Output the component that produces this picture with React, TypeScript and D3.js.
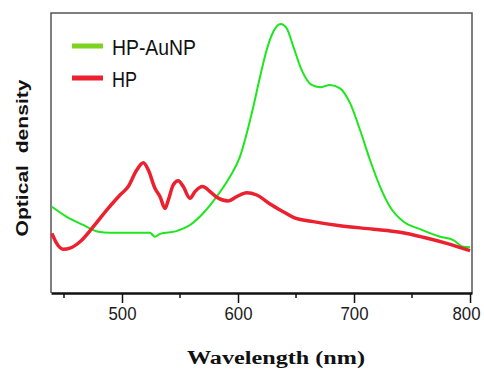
import * as d3 from 'd3'
import { useEffect, useRef } from 'react'

// HP-AuNP spectrum (wavelength nm, optical density a.u.)
const auWave = [439.6, 452, 466.6, 479.6, 489.7, 505, 524, 528.4, 532.8, 547, 558.6, 570, 581.6, 593, 601.7, 607.5, 613.2, 619, 624.7, 630.4, 636.8, 642, 647.7, 654.9, 663.5, 670.7, 679.3, 687.9, 696.6, 705.2, 713.8, 722.4, 731, 742.5, 756.9, 774.1, 785.6, 794.2, 800];
const auOD = [0.308, 0.273, 0.243, 0.219, 0.215, 0.215, 0.215, 0.201, 0.211, 0.221, 0.243, 0.285, 0.344, 0.415, 0.487, 0.570, 0.665, 0.772, 0.868, 0.933, 0.961, 0.945, 0.880, 0.796, 0.743, 0.735, 0.743, 0.731, 0.678, 0.582, 0.475, 0.380, 0.308, 0.255, 0.228, 0.201, 0.189, 0.165, 0.163];

// HP spectrum
const hpWave = [439.6, 443.7, 449.4, 455.2, 463.8, 475.3, 486.8, 498.3, 505.4, 512.7, 518.4, 522.7, 528.4, 532.8, 537.1, 539.9, 544.2, 548.5, 552.8, 558.6, 562.9, 569.5, 575.9, 581.6, 591.6, 598.9, 607.5, 616.1, 627.6, 639.1, 647.7, 664.9, 687.9, 716.6, 739.7, 759.7, 779.9, 800];
const hpOD = [0.213, 0.177, 0.156, 0.160, 0.183, 0.237, 0.296, 0.350, 0.380, 0.439, 0.465, 0.439, 0.374, 0.344, 0.302, 0.332, 0.386, 0.401, 0.380, 0.338, 0.362, 0.380, 0.362, 0.342, 0.329, 0.344, 0.358, 0.350, 0.318, 0.290, 0.270, 0.255, 0.240, 0.228, 0.217, 0.199, 0.177, 0.151];

const majorTicks = [500, 600, 700, 800];
const minorTicks = [450, 550, 650, 750];

const seriesNames = ['HP-AuNP', 'HP'];

const App = () => {
    const ref = useRef<SVGSVGElement>(null);
    const width = 484;
    const height = 372;

    useEffect(() => {
        const svg = d3.select(ref.current);
        svg.selectAll('*').remove();

        const left = 51, right = 472, top = 13, bottom = 293;

        const x = d3.scaleLinear().domain([438.8, 801.7]).range([left, right]);
        const y = d3.scaleLinear().domain([0, 1]).range([bottom, top]);

        // frame
        svg.append('path')
            .attr('d', `M${left},${bottom} V${top} H${right} V${bottom}`)
            .attr('fill', 'none')
            .attr('stroke', '#555')
            .attr('stroke-width', 1.5);

        const axis = svg.append('g')
            .attr('transform', `translate(0,${bottom})`)
            .call(d3.axisBottom(x).tickValues(majorTicks).tickSize(10).tickFormat(d3.format('d')).tickSizeOuter(0));
        axis.select('.domain').attr('stroke', '#111').attr('stroke-width', 2.5);
        axis.selectAll('.tick line').attr('stroke', '#111').attr('stroke-width', 1.5);
        axis.selectAll('.tick text')
            .attr('font-family', 'Liberation Sans, Arial, sans-serif')
            .attr('font-size', 19)
            .attr('fill', '#1a1a1a')
            .attr('y', 14)
            .attr('dy', '0.71em')
            .attr('textLength', 28)
            .attr('lengthAdjust', 'spacingAndGlyphs');
        // last label sits a little left of its tick so it stays inside the page
        axis.selectAll<SVGTextElement, number>('.tick text')
            .filter(d => d === 800)
            .attr('x', -4);

        svg.append('g')
            .selectAll('line')
            .data(minorTicks)
            .join('line')
            .attr('x1', d => x(d))
            .attr('x2', d => x(d))
            .attr('y1', bottom)
            .attr('y2', bottom + 5)
            .attr('stroke', '#111')
            .attr('stroke-width', 1.5);

        const line = d3.line<[number, number]>()
            .x(d => x(d[0]))
            .y(d => y(d[1]))
            .curve(d3.curveMonotoneX);

        const au = auWave.map((w, i) => [w, auOD[i]] as [number, number]);
        const hp = hpWave.map((w, i) => [w, hpOD[i]] as [number, number]);

        svg.append('path')
            .datum(au)
            .attr('fill', 'none')
            .attr('stroke', '#1ee61e')
            .attr('stroke-width', 2)
            .attr('d', line);

        svg.append('path')
            .datum(hp)
            .attr('fill', 'none')
            .attr('stroke', '#ec2130')
            .attr('stroke-width', 3.5)
            .attr('d', line);

        // legend
        const legendColors = ['#7ed321', '#ec2130'];
        const legendY = [46, 78];
        const legendLen = [84, 25];
        const legend = svg.append('g');
        seriesNames.forEach((name, i) => {
            legend.append('line')
                .attr('x1', 72).attr('x2', 103)
                .attr('y1', legendY[i]).attr('y2', legendY[i])
                .attr('stroke', legendColors[i]).attr('stroke-width', 5);
            legend.append('text')
                .attr('x', 112).attr('y', legendY[i] + 8.5)
                .attr('font-family', 'Liberation Sans, Arial, sans-serif')
                .attr('font-size', 22)
                .attr('fill', '#111')
                .attr('textLength', legendLen[i])
                .attr('lengthAdjust', 'spacingAndGlyphs')
                .text(name);
        });

        svg.append('text')
            .attr('x', 276)
            .attr('y', 364)
            .attr('text-anchor', 'middle')
            .attr('font-family', 'Liberation Serif, Times New Roman, serif')
            .attr('font-weight', 'bold')
            .attr('font-size', 18)
            .attr('fill', '#111')
            .attr('textLength', 178)
            .attr('lengthAdjust', 'spacingAndGlyphs')
            .text('Wavelength (nm)');

        svg.append('text')
            .attr('transform', 'translate(28,158) rotate(-90)')
            .attr('text-anchor', 'middle')
            .attr('font-family', 'Liberation Sans, Arial, sans-serif')
            .attr('font-weight', 'bold')
            .attr('font-size', 16)
            .attr('fill', '#111')
            .attr('textLength', 157)
            .attr('lengthAdjust', 'spacingAndGlyphs')
            .style('white-space', 'pre')
            .text('Optical  density');
    }, []);

    return (
        <svg ref={ref} width={width} height={height}
            style={{ position: 'absolute', left: 0, top: 0, background: '#fff' }} />
    );
};

export default App;
